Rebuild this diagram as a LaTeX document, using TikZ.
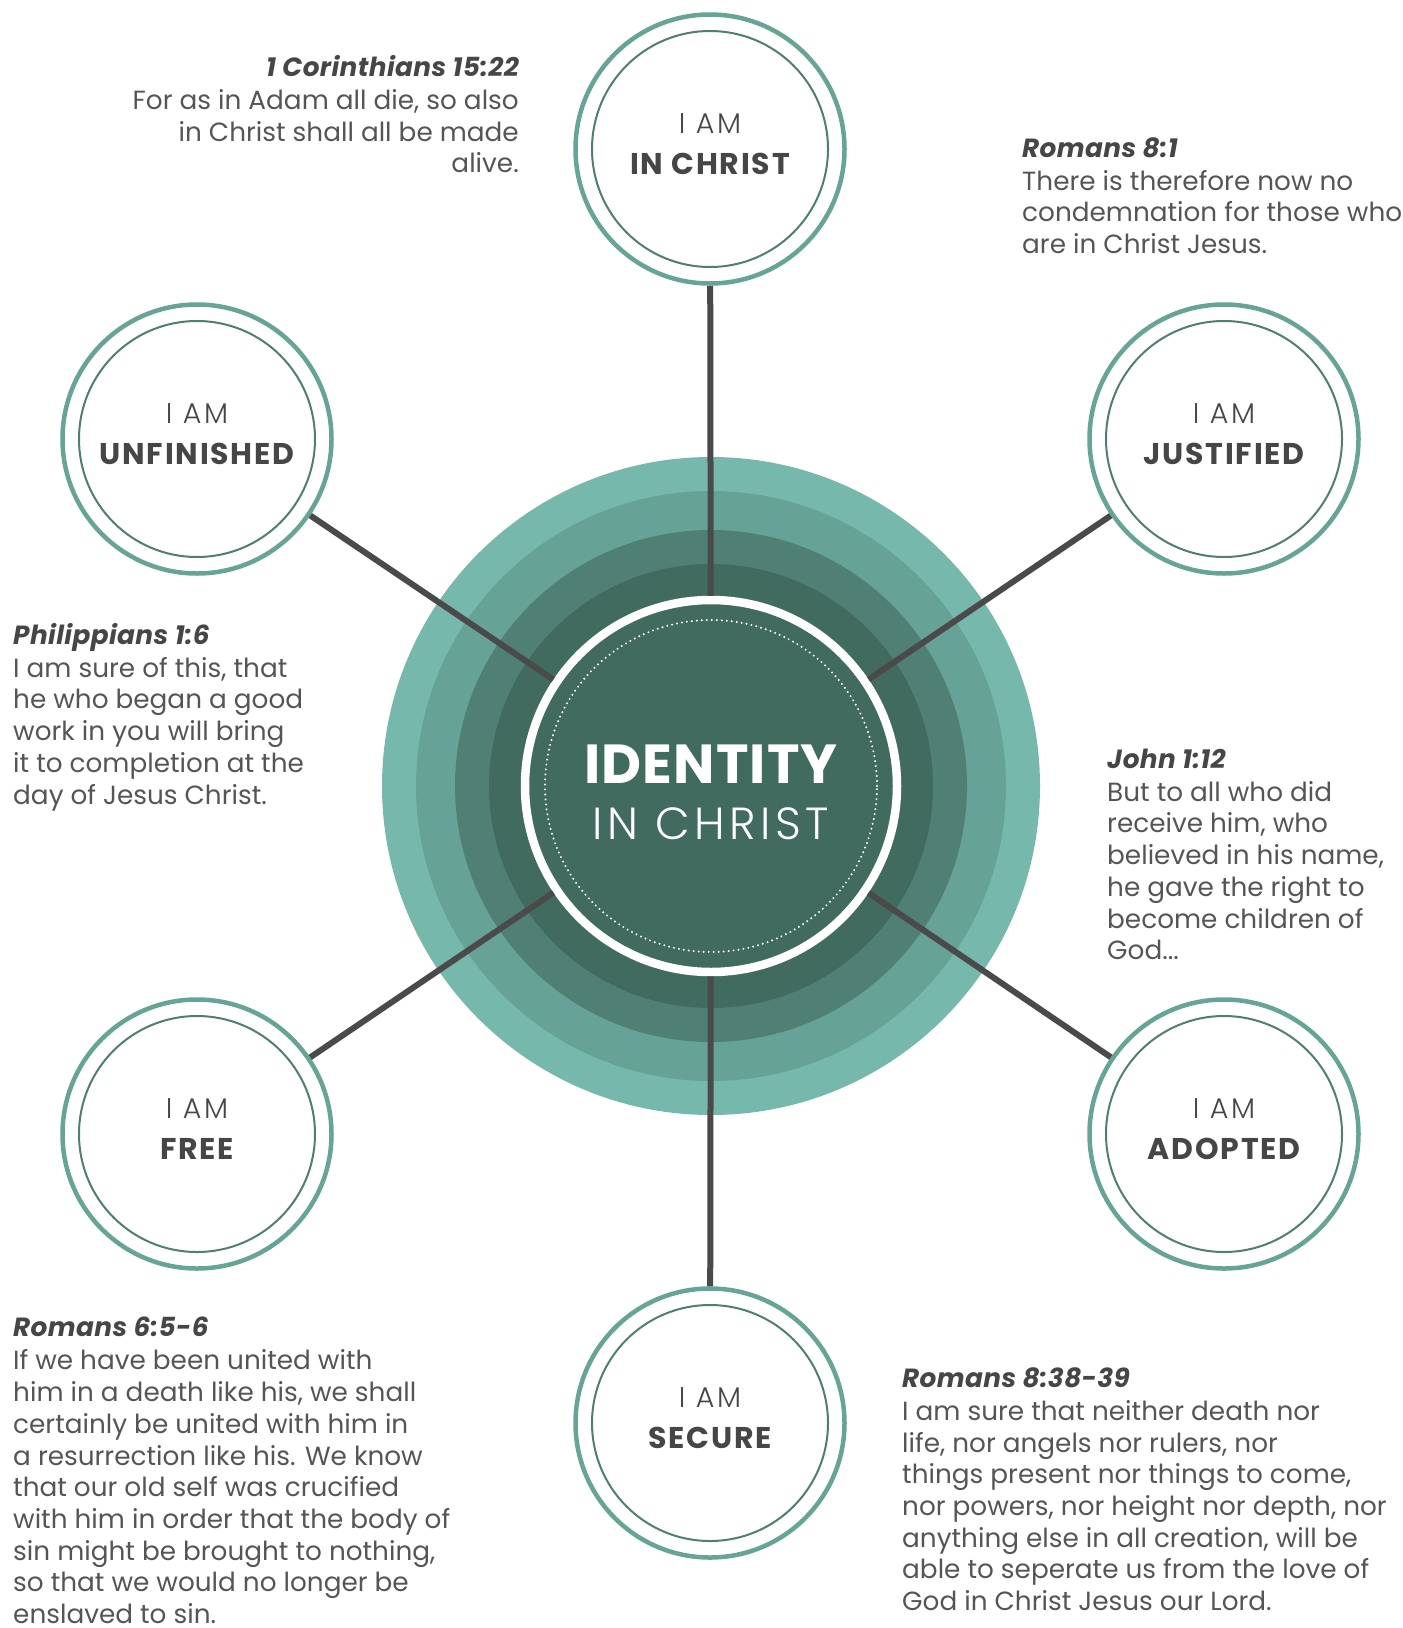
\documentclass[tikz,border=0pt]{standalone}
\usepackage{fontspec}
\setmainfont{Poppins}
\newfontfamily\lightfont{Poppins Light}
\usetikzlibrary{calc}

\definecolor{ringA}{RGB}{118,185,172}
\definecolor{ringB}{RGB}{102,163,150}
\definecolor{ringC}{RGB}{80,127,115}
\definecolor{ringD}{RGB}{66,107,96}
\definecolor{satring}{RGB}{102,165,150}
\definecolor{satinner}{RGB}{79,127,114}
\definecolor{spoke}{RGB}{74,74,74}
\definecolor{headgray}{RGB}{70,70,70}
\definecolor{bodygray}{RGB}{85,85,85}

\newcommand\versefont{\fontsize{26.3}{31.7}\selectfont}
\newcommand\verseref[1]{{\color{headgray}\bfseries\itshape\addfontfeatures{LetterSpace=1.5}#1}\\[1.3pt]}

% one "I AM ..." badge: name, x, y, word
\newcommand\badge[4]{%
  \node[satellite] (#1) at (#2,#3) {};
  \node[amtext, anchor=base] (#1-am) at (#2,#3-16) {I AM};
  \node[badgetext, anchor=base] (#1-word) at (#2,#3+25) {#4};
}

\begin{document}
\begin{tikzpicture}[x=1pt,y=-1pt,
  verse/.style={inner sep=0pt, font=\versefont, text=bodygray},
  satellite/.style={circle, draw=satring, line width=4.5pt, fill=white,
    minimum size=269pt, inner sep=0pt,
    path picture={\draw[satinner, line width=2pt]
      (path picture bounding box.center) circle (118pt);}},
  amtext/.style={inner sep=0pt, text=headgray,
    font=\fontsize{28.5}{34}\selectfont\lightfont\addfontfeatures{LetterSpace=9}},
  badgetext/.style={inner sep=0pt, text=headgray,
    font=\fontsize{30}{36}\selectfont\bfseries\addfontfeatures{LetterSpace=6}},
  spokeline/.style={draw=spoke, line width=6pt}]

\useasboundingbox (0,0) rectangle (1403,1628);

% concentric background rings
\fill[ringA] (711,786) circle (329pt);
\fill[ringB] (711,786) circle (295pt);
\fill[ringC] (711,786) circle (256pt);
\fill[ringD] (711,786) circle (222pt);

% central disc
\node[circle, fill=ringD, draw=white, line width=8.5pt, minimum size=372pt,
      inner sep=0pt] (core) at (711,786) {};
\draw[white, line width=2.2pt, line cap=round, dash pattern=on 0pt off 5pt]
  (core.center) circle (166pt);
\node[anchor=base, text=white, inner sep=0pt,
      font=\fontsize{55}{60}\selectfont\bfseries\addfontfeatures{LetterSpace=2}]
  (title) at (711,783) {IDENTITY};
\node[anchor=base, text=white, inner sep=0pt,
      font=\fontsize{45}{54}\selectfont\lightfont\addfontfeatures{LetterSpace=10}]
  (subtitle) at (711,839.4) {IN CHRIST};

% satellites
\badge{inchrist}{710}{149}{IN CHRIST}
\badge{unfinished}{197}{439}{UNFINISHED}
\badge{justified}{1224}{439}{JUSTIFIED}
\badge{free}{197}{1134}{FREE}
\badge{adopted}{1224}{1134}{ADOPTED}
\badge{secure}{710}{1423}{SECURE}

% spokes
\foreach \s in {inchrist,unfinished,justified,free,adopted,secure}
  \draw[spokeline] (\s) -- (core);

% verses (each placed by the baseline of its last line)
\node[verse, anchor=base east, align=right] (cor) at (519,172.9)
  {\verseref{1 Corinthians 15:22}
   For as in Adam all die, so also\\
   in Christ shall all be made\\
   alive.};
\node[verse, anchor=base west, align=left] (rom81) at (1022,253.5)
  {\verseref{Romans 8:1}
   There is therefore now no\\
   condemnation for those who\\
   are in Christ Jesus.};
\node[verse, anchor=base west, align=left] (phil) at (13,804)
  {\verseref{Philippians 1:6}
   I am sure of this, that\\
   he who began a good\\
   work in you will bring\\
   it to completion at the\\
   day of Jesus Christ.};
\node[verse, anchor=base west, align=left] (john) at (1107,959.7)
  {\verseref{John 1:12}
   But to all who did\\
   receive him, who\\
   believed in his name,\\
   he gave the right to\\
   become children of\\
   God...};
\node[verse, anchor=base west, align=left] (rom65) at (13,1623.5)
  {\verseref{Romans 6:5-6}
   If we have been united with\\
   him in a death like his, we shall\\
   certainly be united with him in\\
   a resurrection like his. We know\\
   that our old self was crucified\\
   with him in order that the body of\\
   sin might be brought to nothing,\\
   so that we would no longer be\\
   enslaved to sin.};
\node[verse, anchor=base west, align=left] (rom838) at (902,1610.5)
  {\verseref{Romans 8:38-39}
   I am sure that neither death nor\\
   life, nor angels nor rulers, nor\\
   things present nor things to come,\\
   nor powers, nor height nor depth, nor\\
   anything else in all creation, will be\\
   able to seperate us from the love of\\
   God in Christ Jesus our Lord.};
\end{tikzpicture}
\end{document}
